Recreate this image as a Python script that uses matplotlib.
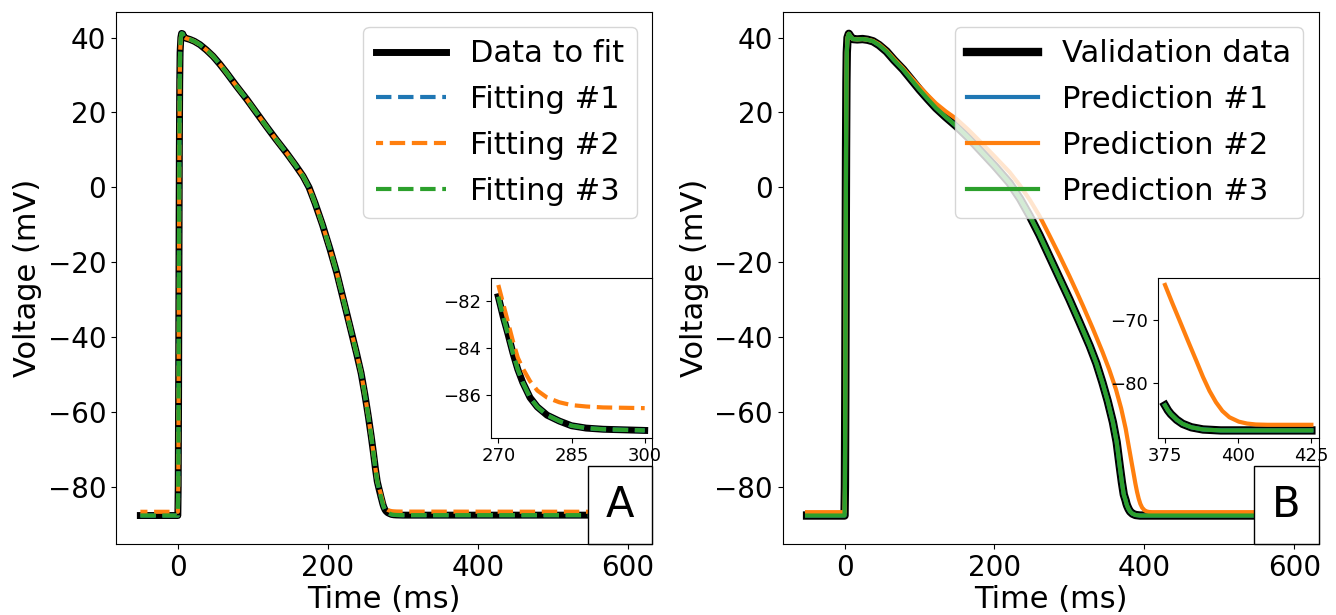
import numpy as np
import matplotlib
matplotlib.use("Agg")
import matplotlib.pyplot as plt
from matplotlib.offsetbox import AnchoredText

# panel A: data to fit and the three fittings (ms, mV)
t_fit = [-50, 0, 0.5, 1, 1.5, 2, 2.5, 3, 4, 5, 6.5, 8, 11, 16, 22, 29.5, 38,
         47, 56, 65, 78, 92, 105, 118, 131, 145, 157, 167, 175, 183, 193, 203,
         212, 220.5, 229.5, 238.4, 244.5, 249.5, 254, 258, 261, 263.5, 266,
         268, 270, 271, 272, 273, 274, 275, 276.5, 278, 280, 282.5, 285, 288,
         291.5, 300, 600]
v_data = [-87.6, -87.6, -80, -55, -20, 10, 28, 36, 40, 41.1, 41, 40.2, 39.8,
          39.5, 39, 38.1, 36.7, 35, 32.9, 30.6, 27.1, 23.5, 19.9, 16.3, 12.8,
          9.2, 5.9, 3, 0, -4.2, -10, -16.5, -22.8, -29.7, -37, -44.3, -49.6,
          -55.3, -61, -66.5, -71, -75, -78.5, -80.2, -81.8, -82.65, -83.4,
          -84.2, -84.9, -85.45, -86.1, -86.5, -86.85, -87.1, -87.3, -87.4,
          -87.45, -87.5, -87.5]
v_fit1 = [-87.6, -87.6, -80, -55, -20, 10, 28, 36, 40, 41.1, 41, 40.2, 39.8,
          39.5, 39, 38.1, 36.7, 35, 32.9, 30.6, 27.1, 23.5, 19.9, 16.3, 12.8,
          9.2, 5.9, 3, 0, -4.2, -10, -16.5, -22.8, -29.7, -37, -44.3, -49.6,
          -55.3, -61, -66.5, -71, -75, -78.5, -80.2, -81.8, -82.65, -83.4,
          -84.2, -84.9, -85.45, -86.1, -86.5, -86.85, -87.1, -87.3, -87.4,
          -87.45, -87.5, -87.5]
v_fit2 = [-86.6, -86.6, -80, -55, -20, 10, 28, 36, 40, 41.1, 41, 40.2, 39.8,
          39.5, 39, 38.1, 36.7, 35, 32.9, 30.6, 27.1, 23.5, 19.9, 16.3, 12.8,
          9.2, 5.9, 3, 0, -4.2, -10, -16.5, -22.8, -29.7, -37, -44.3, -49.6,
          -55.3, -61, -66.5, -71, -75, -78.4, -80.0, -81.3, -82.1, -82.9,
          -83.7, -84.4, -84.85, -85.4, -85.8, -86.1, -86.3, -86.42, -86.48,
          -86.52, -86.55, -86.6]
v_fit3 = [-87.6, -87.6, -80, -55, -20, 10, 28, 36, 40, 41.1, 41, 40.2, 39.8,
          39.5, 39, 38.1, 36.7, 35, 32.9, 30.6, 27.1, 23.5, 19.9, 16.3, 12.8,
          9.2, 5.9, 3, 0, -4.2, -10, -16.5, -22.8, -29.7, -37, -44.3, -49.6,
          -55.3, -61, -66.5, -71, -75, -78.5, -80.2, -81.8, -82.65, -83.4,
          -84.2, -84.9, -85.45, -86.1, -86.5, -86.85, -87.1, -87.3, -87.4,
          -87.45, -87.5, -87.5]

# panel B: validation data and predictions
t_val = [-50, 0, 0.5, 1, 1.5, 2, 2.5, 3, 4, 5.7, 8, 11, 17, 24, 31, 38, 46,
         56, 66, 78, 89, 100, 111, 122, 135, 149, 165, 180, 200, 220, 234, 247,
         260, 273, 286, 300, 313, 327, 336, 344, 351, 358, 363, 367, 370,
         372.5, 375, 376, 377, 379, 381, 384, 388, 394, 425, 600]
v_val = [-87.6, -87.6, -80, -55, -20, 10, 28, 36, 40, 41, 40.3, 39.6, 39.5,
         39.6, 39.4, 39, 38, 36.3, 34, 31.5, 28.8, 26.1, 23.6, 21.2, 18.8, 16.4,
         13.3, 10.1, 5.8, 1.2, -3, -7.6, -12.7, -18.3, -23.9, -29.9, -35.8,
         -42.3, -47, -52.1, -57, -62.7, -68, -74.3, -78.8, -82, -83.6, -84.4,
         -85.0, -85.9, -86.55, -87.1, -87.45, -87.6, -87.6, -87.6]
v_pred1 = list(v_val)
v_pred3 = list(v_val)
t_pred2 = [-50, 0, 0.5, 1, 1.5, 2, 2.5, 3, 4, 5.7, 8, 11, 17, 24, 31, 38, 46,
           56, 66, 78, 89, 100, 111, 122, 135, 149, 165, 180, 200, 220, 234,
           247, 260, 273, 287, 300, 309, 318, 331, 344, 353, 362, 369, 375,
           377.5, 380, 383, 385.7, 388, 390.2, 392.4, 394.6, 397, 400.2, 403,
           406, 410, 425, 600]
v_pred2 = [-86.7, -86.7, -80, -55, -20, 10, 28, 36, 40, 41, 40.3, 39.6, 39.5,
           39.6, 39.4, 39.1, 38.2, 36.5, 34.3, 31.8, 29.3, 26.9, 24.6, 22.4,
           20.3, 18.3, 15.4, 12.4, 8.3, 4.1, 0.5, -3.3, -7.6, -12.7, -18.3,
           -23.7, -27.6, -31.6, -37.6, -43.9, -48.6, -53.9, -59, -64.4, -67.3,
           -70.1, -73.5, -76.5, -79.1, -81.3, -83.1, -84.5, -85.5, -86.2,
           -86.5, -86.65, -86.7, -86.7, -86.7]

W, H = 1336, 615
fig = plt.figure(figsize=(W / 100, H / 100), dpi=100)

ax_pos = [(116, 11.7, 652, 544), (782.7, 11.7, 1318.7, 544)]
ins_pos = [(491, 277.7, 652, 437.7), (1157.7, 277.7, 1318.7, 437.7)]


def rect(p):
    x0, y0, x1, y1 = p
    return [x0 / W, 1 - y1 / H, (x1 - x0) / W, (y1 - y0) / H]


def window(t, v, lo, hi):
    t = np.asarray(t)
    v = np.asarray(v)
    m = (t >= lo) & (t <= hi)
    return t[m], v[m]


def style_main(ax, tag):
    ax.set_xlim(-82.5, 632.5)
    ax.set_ylim(-95.2, 46.9)
    ax.set_xticks([0, 200, 400, 600])
    ax.set_yticks([40, 20, 0, -20, -40, -60, -80])
    ax.tick_params(labelsize=20)
    ax.set_xlabel("Time (ms)", fontsize=22, labelpad=2)
    ax.set_ylabel("Voltage (mV)", fontsize=22, labelpad=4)
    ax.legend(loc="upper right", fontsize=22, labelspacing=0.55,
              handlelength=2.3)
    at = AnchoredText(tag, loc="lower right", prop=dict(size=30), pad=0.43,
                      borderpad=0, frameon=True)
    at.patch.set_boxstyle("square,pad=0")
    ax.add_artist(at)


# ---------------- panel A ----------------
ax = fig.add_axes(rect(ax_pos[0]))
ax.plot(t_fit, v_data, color="black", lw=5, label="Data to fit")
ax.plot(t_fit, v_fit1, color="tab:blue", lw=3, ls="--", label="Fitting #1")
ax.plot(t_fit, v_fit2, color="tab:orange", lw=3, ls=(2, (3.7, 1.6)), label="Fitting #2")
ax.plot(t_fit, v_fit3, color="tab:green", lw=3, ls="--", label="Fitting #3")
style_main(ax, "A")

ins = fig.add_axes(rect(ins_pos[0]))
for v, kw in [(v_data, dict(color="black", lw=5)),
              (v_fit1, dict(color="tab:blue", lw=3, ls="--")),
              (v_fit2, dict(color="tab:orange", lw=3, ls="--")),
              (v_fit3, dict(color="tab:green", lw=3, ls="--"))]:
    tt, vv = window(t_fit, v, 270, 300)
    ins.plot(tt, vv, **kw)
ins.set_xticks([270, 285, 300])
ins.set_yticks([-82, -84, -86])
ins.tick_params(labelsize=13)

# ---------------- panel B ----------------
ax = fig.add_axes(rect(ax_pos[1]))
ax.plot(t_val, v_val, color="black", lw=6, label="Validation data")
ax.plot(t_val, v_pred1, color="tab:blue", lw=3, label="Prediction #1")
ax.plot(t_pred2, v_pred2, color="tab:orange", lw=3, label="Prediction #2")
ax.plot(t_val, v_pred3, color="tab:green", lw=3, label="Prediction #3")
style_main(ax, "B")

ins = fig.add_axes(rect(ins_pos[1]))
for t, v, kw in [(t_val, v_val, dict(color="black", lw=6)),
                 (t_val, v_pred1, dict(color="tab:blue", lw=3)),
                 (t_pred2, v_pred2, dict(color="tab:orange", lw=3)),
                 (t_val, v_pred3, dict(color="tab:green", lw=3))]:
    tt, vv = window(t, v, 375, 425)
    ins.plot(tt, vv, **kw)
ins.set_xticks([375, 400, 425])
ins.set_yticks([-70, -80])
ins.tick_params(labelsize=13)

fig.savefig("out.png", dpi=100)
